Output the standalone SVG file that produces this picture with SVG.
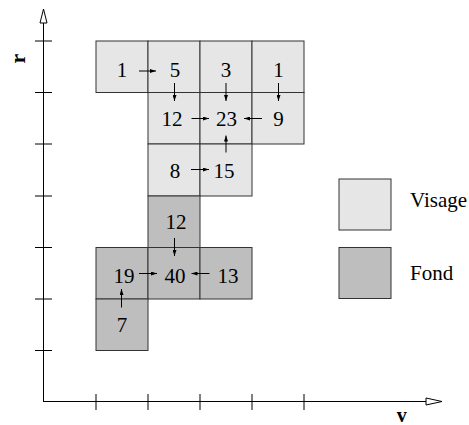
<svg xmlns="http://www.w3.org/2000/svg" width="469" height="425" viewBox="0 0 469 425">
<style>
  .cell rect { stroke: #333; stroke-width: 1; }
  .light rect { fill: #e6e6e6; }
  .dark rect { fill: #bebebe; }
  text { font-family: "Liberation Serif", "Times New Roman", serif; font-size: 21px; fill: #000; }
  .num { text-anchor: middle; }
  .lbl { font-weight: bold; text-anchor: middle; font-size: 22px; }
  .axis { stroke: #000; stroke-width: 1; fill: none; }
  .head { fill: #fff; stroke: #000; stroke-width: 1; }
  .conn line { stroke: #000; stroke-width: 1; marker-end: url(#ah); }
</style>
<defs>
  <marker id="ah" markerUnits="userSpaceOnUse" viewBox="0 0 6 4" refX="6" refY="2" markerWidth="6" markerHeight="4" orient="auto">
    <path d="M0,0 L6,2 L0,4 Z" fill="#000"/>
  </marker>
</defs>
<rect width="469" height="425" fill="#fff"/>
<g id="axes">
  <line class="axis" x1="43.5" y1="402" x2="43.5" y2="23"/>
  <polygon class="head" points="43.5,9 40,23 47,23"/>
  <line class="axis" x1="43.5" y1="401.5" x2="426" y2="401.5"/>
  <polygon class="head" points="442,401.5 426,398 426,405"/>
  <g class="axis">
    <line x1="35" y1="41" x2="52" y2="41"/>
    <line x1="35" y1="92.5" x2="52" y2="92.5"/>
    <line x1="35" y1="144" x2="52" y2="144"/>
    <line x1="35" y1="196" x2="52" y2="196"/>
    <line x1="35" y1="247.5" x2="52" y2="247.5"/>
    <line x1="35" y1="299" x2="52" y2="299"/>
    <line x1="35" y1="350.5" x2="52" y2="350.5"/>
    <line x1="96" y1="394" x2="96" y2="410"/>
    <line x1="148" y1="394" x2="148" y2="410"/>
    <line x1="200" y1="394" x2="200" y2="410"/>
    <line x1="252" y1="394" x2="252" y2="410"/>
    <line x1="304" y1="394" x2="304" y2="410"/>
  </g>
  <text class="lbl" transform="translate(25,58.5) rotate(-90)">r</text>
  <text class="lbl" x="401.7" y="422.3" style="font-size:20px">v</text>
</g>
<g id="cell-1a" class="cell light"><rect x="96" y="41" width="52" height="51.5"/><text class="num" x="122" y="77">1</text></g>
<g id="cell-5" class="cell light"><rect x="148" y="41" width="52" height="51.5"/><text class="num" x="175" y="77">5</text></g>
<g id="cell-3" class="cell light"><rect x="200" y="41" width="52" height="51.5"/><text class="num" x="226" y="77">3</text></g>
<g id="cell-1b" class="cell light"><rect x="252" y="41" width="52" height="51.5"/><text class="num" x="278.5" y="77">1</text></g>
<g id="cell-12a" class="cell light"><rect x="148" y="92.5" width="52" height="51.5"/><text class="num" x="172" y="126">12</text></g>
<g id="cell-23" class="cell light"><rect x="200" y="92.5" width="52" height="51.5"/><text class="num" x="226.5" y="126">23</text></g>
<g id="cell-9" class="cell light"><rect x="252" y="92.5" width="52" height="51.5"/><text class="num" x="278.5" y="126">9</text></g>
<g id="cell-8" class="cell light"><rect x="148" y="144" width="52" height="52"/><text class="num" x="175" y="178">8</text></g>
<g id="cell-15" class="cell light"><rect x="200" y="144" width="52" height="52"/><text class="num" x="224" y="178">15</text></g>
<g id="cell-12b" class="cell dark"><rect x="148" y="196" width="52" height="51.5"/><text class="num" x="176" y="228.5">12</text></g>
<g id="cell-19" class="cell dark"><rect x="96" y="247.5" width="52" height="51.5"/><text class="num" x="124" y="282.5">19</text></g>
<g id="cell-40" class="cell dark"><rect x="148" y="247.5" width="52" height="51.5"/><text class="num" x="175" y="282.5">40</text></g>
<g id="cell-13" class="cell dark"><rect x="200" y="247.5" width="52" height="51.5"/><text class="num" x="228" y="282.5">13</text></g>
<g id="cell-7" class="cell dark"><rect x="96" y="299" width="52" height="51.5"/><text class="num" x="122" y="332">7</text></g>
<g id="connectors" class="conn">
  <line x1="139" y1="71" x2="156" y2="71"/>
  <line x1="174.5" y1="83" x2="174.5" y2="101"/>
  <line x1="226" y1="83" x2="226" y2="101"/>
  <line x1="278.5" y1="83" x2="278.5" y2="101"/>
  <line x1="191.5" y1="118.5" x2="209" y2="118.5"/>
  <line x1="262" y1="118.5" x2="244" y2="118.5"/>
  <line x1="226" y1="152.5" x2="226" y2="135.5"/>
  <line x1="191" y1="169.5" x2="209" y2="169.5"/>
  <line x1="174.5" y1="238" x2="174.5" y2="256"/>
  <line x1="139" y1="273.5" x2="157" y2="273.5"/>
  <line x1="209.5" y1="273.5" x2="191.5" y2="273.5"/>
  <line x1="121.5" y1="307.5" x2="121.5" y2="289"/>
</g>
<g id="legend-visage" class="cell light"><rect x="339" y="179" width="52" height="51"/><text x="410" y="207">Visage</text></g>
<g id="legend-fond" class="cell dark"><rect x="339" y="247.5" width="52" height="51"/><text x="410" y="279.5">Fond</text></g>
</svg>
